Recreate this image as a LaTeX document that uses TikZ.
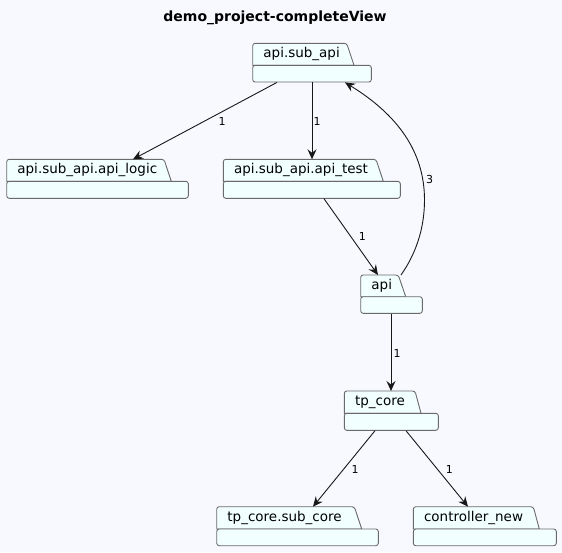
\documentclass[tikz,border=0pt]{standalone}
\usepackage{fontspec}
\setmainfont{DejaVu Sans}
\usetikzlibrary{arrows.meta,calc}
\definecolor{bgc}{HTML}{F8F8FF}
\definecolor{pkgfill}{HTML}{F1FFFF}
\definecolor{pkgline}{HTML}{6A6A6A}
\definecolor{edgec}{HTML}{181818}
\tikzset{
  pkgpart/.style={fill=pkgfill,draw=pkgline,line width=0.9pt},
  pkgtext/.style={font=\fontsize{13.5}{16}\selectfont,anchor=west,inner sep=0pt,text=black},
  deparrow/.style={draw=edgec,line width=0.9pt,-{Stealth[length=10pt,width=9pt,inset=3.5pt]}},
  edgelabel/.style={font=\fontsize{11}{13}\selectfont,inner sep=0pt,text=black},
}
% #1 name, #2 L, #3 T, #4 tab right top, #5 tab right bottom, #6 tab bottom, #7 R, #8 B, #9 text
\newcommand\pkgbox[9]{%
  \filldraw[pkgpart] (#2,#6) [rounded corners=2.5pt]-- (#2,#3) -- (#4,#3) [sharp corners]-- (#5,#6) -- cycle;
  \filldraw[pkgpart,rounded corners=2.5pt] (#2,#6) rectangle (#7,#8);
  \node[inner sep=0pt,minimum width={(#7-#2)*1pt},minimum height={(#8-#3)*1pt},anchor=north west] (#1) at (#2,#3) {};
  \node[pkgtext] (#1-name) at ({#2+10.5},{(#3+#6)/2}) {#9};
}
\begin{document}
\begin{tikzpicture}[x=1pt,y=-1pt]
\useasboundingbox[fill=bgc] (0,0) rectangle (562,552);
\node[font=\bfseries\fontsize{14}{17}\selectfont] (title) at (275,18) {demo\_project-completeView};

\pkgbox{subapi}{252.7}{43.3}{346.7}{354}{65.3}{371.3}{82}{api.sub\_api}
\pkgbox{apilogic}{6.7}{159.3}{164}{171.3}{181.3}{188.3}{198.3}{api.sub\_api.api\_logic}
\pkgbox{apitest}{223.3}{159.3}{376}{383.3}{181.3}{400.3}{198.3}{api.sub\_api.api\_test}
\pkgbox{api}{360.7}{275}{398.3}{405.7}{296.7}{422.3}{313.3}{api}
\pkgbox{tpcore}{344.3}{391}{415}{421}{413.3}{438.3}{430.3}{tp\_core}
\pkgbox{subcore}{216.7}{506.7}{354.3}{361.7}{529}{378.3}{545.7}{tp\_core.sub\_core}
\pkgbox{ctrlnew}{413.3}{506.7}{533.3}{539.3}{529}{556.3}{545.7}{controller\_new}

\draw[deparrow] ($(subapi.south west)+(24.3,0)$) -- ($(apilogic.north west)+(126.3,0)$);
\node[edgelabel] (l1) at (222,121) {1};
\draw[deparrow] ($(subapi.south west)+(59.3,0)$) -- ($(apitest.north west)+(88.7,0)$);
\node[edgelabel] (l2) at (317,121) {1};
\draw[deparrow] ($(apitest.south west)+(100.7,0)$) -- ($(api.north west)+(17.3,0)$);
\node[edgelabel] (l3) at (362.3,236.7) {1};
\coordinate (bend) at (424.5,200);
\draw[deparrow] ($(api.north west)+(40.3,0)$) .. controls (415,255) and (424.5,230) .. (bend) .. controls (424.5,152) and (398,115) .. ($(subapi.south west)+(92.3,0)$);
\node[edgelabel] (l4) at (429.5,179.3) {3};
\draw[deparrow] ($(api.south west)+(30.3,0)$) -- ($(tpcore.north west)+(46.7,0)$);
\node[edgelabel] (l5) at (397,353) {1};
\draw[deparrow] ($(tpcore.south west)+(30.7,0)$) -- ($(subcore.north west)+(96.3,0)$);
\node[edgelabel] (l6) at (355,469) {1};
\draw[deparrow] ($(tpcore.south west)+(61.7,0)$) -- ($(ctrlnew.north west)+(54.7,0)$);
\node[edgelabel] (l7) at (449.3,469) {1};
\end{tikzpicture}
\end{document}
